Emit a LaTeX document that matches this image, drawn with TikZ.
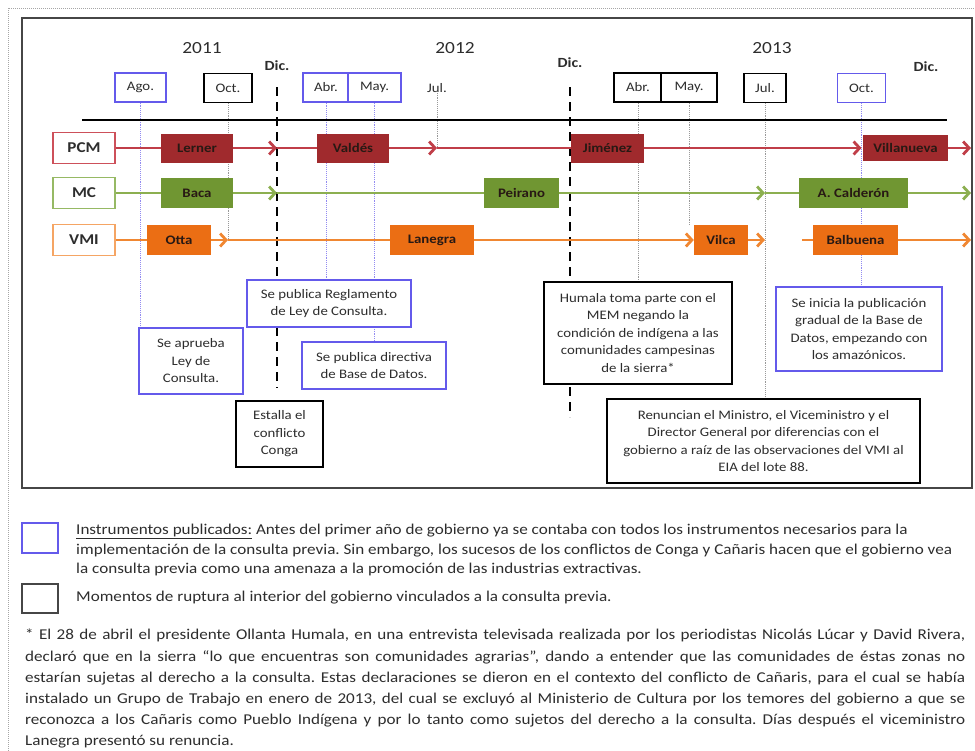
\documentclass[tikz,border=0pt]{standalone}
\usepackage{fontspec}
\setmainfont{Carlito}[FakeStretch=1.14]
\usetikzlibrary{arrows.meta}
\pgfdeclarelayer{background}
\pgfsetlayers{background,main}
\frenchspacing
\definecolor{rline}{RGB}{192,62,72}
\definecolor{rfill}{RGB}{160,42,45}
\definecolor{rbord}{RGB}{205,80,90}
\definecolor{gline}{RGB}{140,175,80}
\definecolor{gfill}{RGB}{112,150,50}
\definecolor{gbord}{RGB}{150,185,100}
\definecolor{oline}{RGB}{240,135,50}
\definecolor{ofill}{RGB}{235,110,20}
\definecolor{obord}{RGB}{245,165,100}
\definecolor{bluebox}{RGB}{100,90,235}
\definecolor{txt}{RGB}{45,45,45}
\definecolor{nametxt}{RGB}{40,25,20}
\definecolor{framecol}{RGB}{70,70,70}
\begin{document}
\begin{tikzpicture}[x=1pt,y=-1pt,
  font=\fontsize{13}{17}\selectfont,
  yearlab/.style={font=\fontsize{17}{20}\selectfont, text=txt, inner sep=0},
  diclab/.style={font=\bfseries\fontsize{14}{16}\selectfont, text=txt, inner sep=0},
  monthbox/.style={draw, line width=1.3pt, fill=white, minimum height=29, inner sep=0, font=\fontsize{13}{15}\selectfont, text=txt},
  monthlab/.style={inner sep=0, font=\fontsize{13}{15}\selectfont, text=txt},
  lab/.style={draw, line width=1.8pt, fill=white, minimum width=62, minimum height=31, inner sep=0, font=\bfseries\fontsize{15}{18}\selectfont, text=txt},
  namebox/.style={minimum height=29, inner sep=0, font=\bfseries\fontsize{13}{15}\selectfont, text=nametxt},
  evbox/.style={draw, line width=1.3pt, fill=white, align=center, inner sep=0, text=txt, font=\fontsize{13}{17.5}\selectfont},
  rowl/.style={line width=2.8pt},
  arr/.style={-{Straight Barb[length=6pt,width=13pt]}},
  guide/.style={densely dotted, line width=0.9pt, color=gray!80},
  bguide/.style={densely dotted, line width=0.9pt, color=bluebox!70},
  dicline/.style={line width=2.8pt, dash pattern=on 9pt off 6pt},
]
\useasboundingbox (0,0) rectangle (975,750);
% frames
\coordinate (fo1) at (8,8); \coordinate (fo2) at (995,770);
\draw[densely dotted, line width=1pt, color=gray!70] (fo1) rectangle (fo2);
\coordinate (fi1) at (22,18); \coordinate (fi2) at (972,488);
\draw[line width=1.6pt, color=framecol] (fi1) rectangle (fi2);

% years and Dic.
\node[yearlab] (y2011) at (202,48) {2011};
\node[yearlab] (y2012) at (455,48) {2012};
\node[yearlab] (y2013) at (772,48) {2013};
\node[diclab] (dic1) at (277,66) {Dic.};
\node[diclab] (dic2) at (570,63) {Dic.};
\node[diclab] (dic3) at (926,67) {Dic.};

% months
\node[monthbox, draw=bluebox, minimum width=51] (ago) at (140.5,87.5) {Ago.};
\node[monthbox, minimum width=48] (oct) at (228,88) {Oct.};
\node[monthbox, draw=bluebox, minimum width=46] (abr) at (326,87.5) {Abr.};
\node[monthbox, draw=bluebox, minimum width=53] (may) at (374.5,87.5) {May.};
\node[monthlab] (jul12) at (437,88) {Jul.};
\node[monthbox, minimum width=48] (abr13) at (638,87.5) {Abr.};
\node[monthbox, minimum width=56] (may13) at (689,87.5) {May.};
\node[monthbox, minimum width=42] (jul13) at (765,88) {Jul.};
\node[monthbox, draw=bluebox, minimum width=48] (oct13) at (861.5,88) {Oct.};

% timeline
\coordinate (tl0) at (82,120); \coordinate (tl1) at (947,120);
\draw[line width=2.6pt] (tl0) -- (tl1);

% event boxes
\node[evbox, draw=bluebox, minimum width=164, minimum height=47] (regl) at (329,303.5) {Se publica Reglamento\\de Ley de Consulta.};
\node[evbox, draw=bluebox, minimum width=104, minimum height=66] (aprueba) at (191,361) {Se aprueba\\Ley de\\Consulta.};
\node[evbox, draw=bluebox, minimum width=144, minimum height=47] (dir) at (374,365.5) {Se publica directiva\\de Base de Datos.};
\node[evbox, minimum width=87, minimum height=66] (estalla) at (279.5,434) {Estalla el\\conflicto\\Conga};
\node[evbox, minimum width=188, minimum height=102] (humala) at (638,333) {Humala toma parte con el\\MEM negando la\\condición de indígena a las\\comunidades campesinas\\de la sierra*};
\node[evbox, draw=bluebox, minimum width=166, minimum height=84] (bdd) at (859,329) {Se inicia la publicación\\gradual de la Base de\\Datos, empezando con\\los amazónicos.};
\node[evbox, minimum width=313, minimum height=84] (ren) at (763.5,441) {Renuncian el Ministro, el Viceministro y el\\Director General por diferencias con el\\gobierno a raíz de las observaciones del VMI al\\EIA del lote 88.};

% rows: PCM
\node[lab, draw=rbord] (pcm) at (84,148) {PCM};
\node[namebox, fill=rfill, minimum width=72] (lerner) at (197,148) {Lerner};
\node[namebox, fill=rfill, minimum width=72] (valdes) at (353,148) {Valdés};
\node[namebox, fill=rfill, minimum width=73] (jimenez) at (607.5,148) {Jiménez};
\node[namebox, fill=rfill, minimum width=85, minimum height=26] (villa) at (905.5,148) {Villanueva};
\coordinate (p1) at (dic1 |- lerner.east);
\coordinate (p2) at (jul12 |- lerner.east);
\coordinate (p3) at (oct13 |- lerner.east);
\coordinate (pe) at (971,148);
\draw[rowl, rline] (pcm) -- (lerner);
\draw[rowl, rline, arr] (lerner) -- (p1);
\draw[rowl, rline] (p1) -- (valdes);
\draw[rowl, rline, arr] (valdes) -- (p2);
\draw[rowl, rline] (p2) -- (jimenez);
\draw[rowl, rline, arr] (jimenez) -- (p3);
\draw[rowl, rline, arr] (villa) -- (pe);

% rows: MC
\node[lab, draw=gbord] (mc) at (84,193) {MC};
\node[namebox, fill=gfill, minimum width=72, minimum height=30] (baca) at (197,193) {Baca};
\node[namebox, fill=gfill, minimum width=75, minimum height=30] (peirano) at (521.5,193) {Peirano};
\node[namebox, fill=gfill, minimum width=109, minimum height=30] (calderon) at (853.5,193) {A. Calderón};
\coordinate (m1) at (dic1 |- baca.east);
\coordinate (m2) at (jul13 |- baca.east);
\coordinate (me) at (971,193);
\draw[rowl, gline] (mc) -- (baca);
\draw[rowl, gline, arr] (baca) -- (m1);
\draw[rowl, gline] (m1) -- (peirano);
\draw[rowl, gline, arr] (peirano) -- (m2);
\draw[rowl, gline] (m2) -- (calderon);
\draw[rowl, gline, arr] (calderon) -- (me);

% rows: VMI
\node[lab, draw=obord] (vmi) at (84,240) {VMI};
\node[namebox, fill=ofill, minimum width=64, minimum height=30] (otta) at (179,240) {Otta};
\node[namebox, fill=ofill, minimum width=84, minimum height=30] (lanegra) at (432,240) {Lanegra};
\node[namebox, fill=ofill, minimum width=54, minimum height=30] (vilca) at (721,240) {Vilca};
\node[namebox, fill=ofill, minimum width=85, minimum height=30] (balbuena) at (855.5,240) {Balbuena};
\coordinate (v1) at (oct |- otta.east);
\coordinate (v3) at (jul13 |- otta.east);
\coordinate (v4) at (802,240);
\coordinate (ve) at (971,240);
\draw[rowl, oline] (vmi) -- (otta);
\draw[rowl, oline, arr] (otta) -- (v1);
\draw[rowl, oline] (v1) -- (lanegra);
\draw[rowl, oline, arr] (lanegra) -- (vilca);
\draw[rowl, oline, arr] (vilca) -- (v3);
\draw[rowl, oline] (v4) -- (balbuena);
\draw[rowl, oline, arr] (balbuena) -- (ve);

% background: dashed Dic. lines and guides
\begin{pgfonlayer}{background}
\coordinate (d1a) at (277,87); \coordinate (d1b) at (277,388);
\coordinate (d2a) at (570,87); \coordinate (d2b) at (570,417);
\draw[dicline] (d1a) -- (d1b);
\draw[dicline] (d2a) -- (d2b);
\draw[bguide] (ago.south) -- (ago.south |- aprueba.north);
\draw[guide] (oct.south) -- (v1);
\draw[bguide] (abr.south) -- (abr.south |- regl.north);
\draw[bguide] (may.south) -- (may.south |- dir.north);
\draw[guide] (jul12.south) -- (p2);
\draw[guide] (abr13.south) -- (abr13.south |- humala.north);
\draw[guide] (may13.south) -- (may13.south |- vilca.north);
\draw[guide] (jul13.south) -- (jul13.south |- ren.north);
\draw[bguide] (oct13.south) -- (oct13.south |- bdd.north);
\end{pgfonlayer}

% legend
\node[draw=bluebox, line width=1.5pt, minimum width=36, minimum height=30, inner sep=0] (legb) at (40,538) {};
\node[draw=framecol, line width=1.5pt, minimum width=36, minimum height=29, inner sep=0] (legk) at (40,598.5) {};
\node[anchor=north west, inner sep=0, align=left, text=txt, font=\fontsize{15}{19.5}\selectfont] (leg1) at (76,524) {\underline{Instrumentos publicados:} Antes del primer año de gobierno ya se contaba con todos los instrumentos necesarios para la\\implementación de la consulta previa. Sin embargo, los sucesos de los conflictos de Conga y Cañaris hacen que el gobierno vea\\la consulta previa como una amenaza a la promoción de las industrias extractivas.};
\node[anchor=north west, inner sep=0, text=txt, font=\fontsize{15}{19.5}\selectfont] (leg2) at (76,591) {Momentos de ruptura al interior del gobierno vinculados a la consulta previa.};

% footnote
\node[anchor=north west, inner sep=0, text width=940, align=justify, text=txt, font=\fontsize{15}{21.2}\selectfont] (foot) at (25,629) {\noindent\hyphenpenalty=10000 * El 28 de abril el presidente Ollanta Humala, en una entrevista televisada realizada por los periodistas Nicolás Lúcar y David Rivera,\linebreak declaró que en la sierra “lo que encuentras son comunidades agrarias”, dando a entender que las comunidades de éstas zonas no\linebreak estarían sujetas al derecho a la consulta. Estas declaraciones se dieron en el contexto del conflicto de Cañaris, para el cual se había\linebreak instalado un Grupo de Trabajo en enero de 2013, del cual se excluyó al Ministerio de Cultura por los temores del gobierno a que se\linebreak reconozca a los Cañaris como Pueblo Indígena y por lo tanto como sujetos del derecho a la consulta. Días después el viceministro\linebreak Lanegra presentó su renuncia.};
\end{tikzpicture}
\end{document}
